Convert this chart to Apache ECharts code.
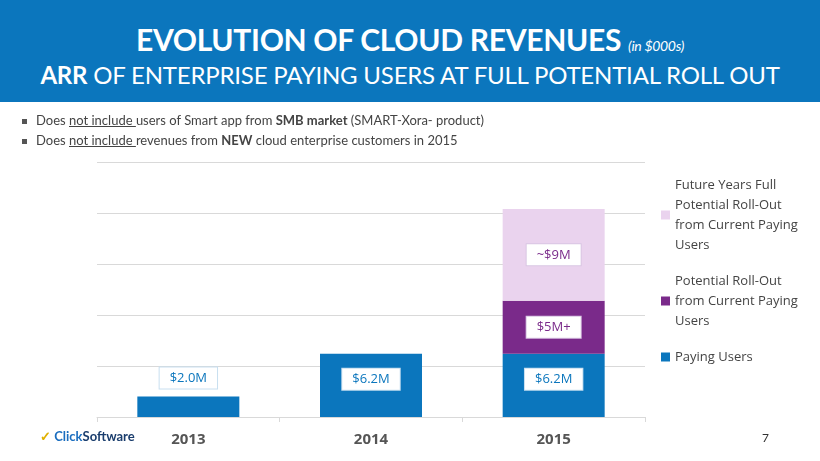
<!DOCTYPE html>
<html><head><meta charset="utf-8">
<script src="https://cdn.jsdelivr.net/npm/echarts@6/dist/echarts.min.js"></script>
<style>
body{margin:0;width:820px;height:461px;overflow:hidden;background:#fff;font-family:Lato,"Open Sans",sans-serif}
#head{position:absolute;left:0;top:0;width:820px;height:102px;background:#0b76bd;color:#fff;text-align:center}
#t1{position:absolute;top:21px;width:100%;font-size:30px;font-weight:bold;letter-spacing:-0.3px}
#t1 i{font-size:14px;font-weight:normal}
#t2{position:absolute;top:60px;width:100%;font-size:24px;letter-spacing:-0.2px}
#notes{position:absolute;left:22px;top:110px;font-size:13px;color:#444;line-height:20px}
#notes span.b{display:inline-block;width:5px;height:5px;background:#555;margin-right:9px;vertical-align:middle}
#logo{position:absolute;left:40px;top:428px;font-size:13px;font-weight:bold;color:#1a3d6d}
#logo .c{color:#1a6dbf}
#pg{position:absolute;left:762px;top:430px;font-size:12px;color:#333}
#chart{position:absolute;left:0;top:0;width:820px;height:461px}
</style></head><body>
<div id="chart"></div>
<div id="head"><div id="t1">EVOLUTION OF CLOUD REVENUES <i>(in $000s)</i></div>
<div id="t2"><b>ARR</b> OF ENTERPRISE PAYING USERS AT FULL POTENTIAL ROLL OUT</div></div>
<div id="notes"><div><span class="b"></span>Does <u>not include </u>users of Smart app from <b>SMB market</b> (SMART-Xora- product)</div>
<div><span class="b"></span>Does <u>not include </u>revenues from <b>NEW</b> cloud enterprise customers in 2015</div></div>
<div id="logo"><span style="color:#e0b000">✓</span> <span class="c">Click</span>Software</div>
<div id="pg">7</div>
<script>
var years = ['2013', '2014', '2015'];
var paying = [2.0, 6.2, 6.2];
var potential = ['-', '-', 5.2];
var future = ['-', '-', 9.0];
var payingLabels = ['$2.0M', '$6.2M', '$6.2M'];
var potentialLabels = ['', '', '$5M+'];
var futureLabels = ['', '', '~$9M'];

var chart = echarts.init(document.getElementById('chart'));

function boxLabel(color, pos, dist) {
    return {
        show: true, position: pos, distance: dist,
        backgroundColor: '#fff', borderColor: color === '#0b76bd' ? '#c8dff0' : '#d9c6e3', borderWidth: 1,
        padding: [4, 10], color: color, fontSize: 13, fontFamily: 'Open Sans'
    };
}

chart.setOption({
    animation: false,
    grid: { left: 97, right: 175, top: 162, bottom: 44 },
    legend: {
        orient: 'vertical', left: 656, top: 170, itemWidth: 9, itemHeight: 9, itemGap: 16,
        icon: 'rect',
        data: ['Future Years Full Potential Roll-Out from Current Paying Users', 'Potential Roll-Out from Current Paying Users', 'Paying Users'],
        formatter: function(n) {
            return {
                'Future Years Full Potential Roll-Out from Current Paying Users': 'Future Years Full\nPotential Roll-Out\nfrom Current Paying\nUsers',
                'Potential Roll-Out from Current Paying Users': 'Potential Roll-Out\nfrom Current Paying\nUsers',
                'Paying Users': 'Paying Users'
            }[n];
        },
        textStyle: { fontSize: 13, color: '#444', lineHeight: 20, fontFamily: 'Open Sans' }
    },
    xAxis: {
        type: 'category', data: years,
        axisLine: { lineStyle: { color: '#d9d9d9' } },
        axisTick: { show: true, lineStyle: { color: '#d9d9d9' } },
        axisLabel: { color: '#555', fontSize: 15, fontWeight: 'bold', margin: 15, fontFamily: 'Open Sans' }
    },
    yAxis: {
        type: 'value', min: 0, max: 25, interval: 5,
        axisLabel: { show: false }, axisLine: { show: false }, axisTick: { show: false },
        splitLine: { lineStyle: { color: '#d9d9d9' } }
    },
    series: [{
        name: 'Paying Users', type: 'bar', stack: 's', barWidth: 102, itemStyle: { color: '#0b76bd' },
        data: paying.map(function(v, i) {
            return { value: v, label: i === 0 ? boxLabel('#0b76bd', 'top', 8) : boxLabel('#0b76bd', 'insideTop', 15) };
        }),
        label: { formatter: function(p) { return payingLabels[p.dataIndex]; } }
    }, {
        name: 'Potential Roll-Out from Current Paying Users', type: 'bar', stack: 's', itemStyle: { color: '#7a2a8a' },
        data: potential,
        label: Object.assign(boxLabel('#7a2a8a', 'inside', 0), { formatter: function(p) { return potentialLabels[p.dataIndex]; } })
    }, {
        name: 'Future Years Full Potential Roll-Out from Current Paying Users', type: 'bar', stack: 's', itemStyle: { color: '#ead3ee' },
        data: future,
        label: Object.assign(boxLabel('#7a2a8a', 'inside', 0), { formatter: function(p) { return futureLabels[p.dataIndex]; } })
    }]
});
</script>
</body></html>
